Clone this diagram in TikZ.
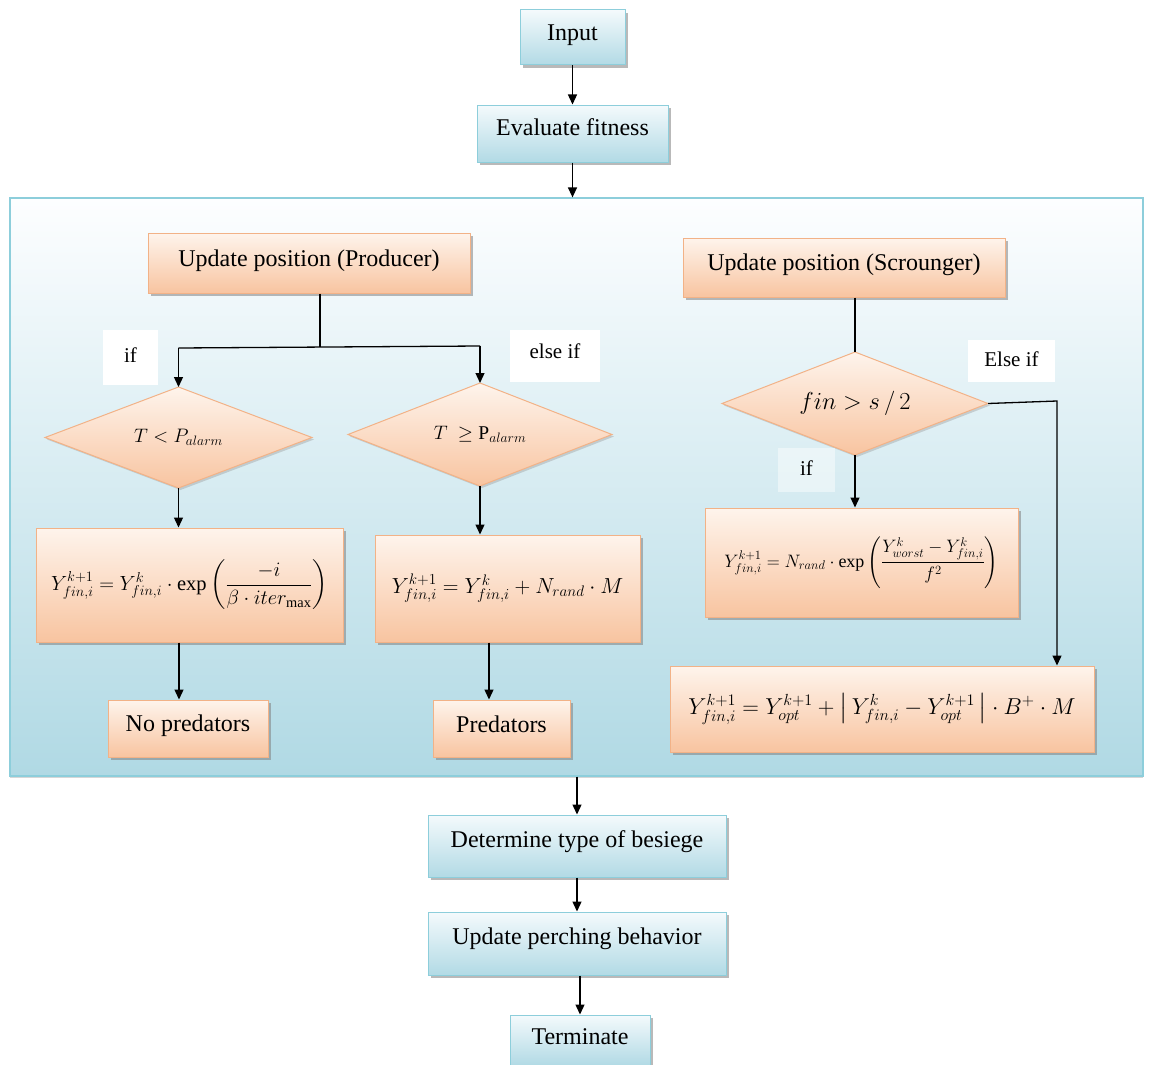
\RequirePackage{fix-cm}
\documentclass[tikz,border=0pt]{standalone}
\usepackage{amsmath}
\usepackage{fontspec}
\setmainfont{Liberation Serif}
\usetikzlibrary{shapes.geometric,arrows.meta,shadows}
\definecolor{btop}{HTML}{F4FAFC}
\definecolor{bbot}{HTML}{B2DAE5}
\definecolor{bborder}{HTML}{8DCEDB}
\definecolor{ctop}{HTML}{FDFEFF}
\definecolor{cbot}{HTML}{B0D9E4}
\definecolor{otop}{HTML}{FEF4EC}
\definecolor{obot}{HTML}{F8C4A0}
\definecolor{oborder}{HTML}{F2B287}
\begin{document}
\begin{tikzpicture}[x=1pt,y=-1pt,
  shbox/.style={rectangle, line width=1pt, inner sep=0pt,
    drop shadow={shadow xshift=3pt,shadow yshift=-3pt,fill=black!50,opacity=0.55}},
  bluebox/.style={shbox, draw=bborder, top color=btop, bottom color=bbot,
    font=\fontsize{24}{28}\selectfont},
  orbox/.style={shbox, draw=oborder, top color=otop, bottom color=obot,
    font=\fontsize{24}{28}\selectfont},
  dia/.style={diamond, aspect=2.6, draw=oborder, line width=1pt, top color=otop, bottom color=obot,
    inner sep=0pt, outer sep=0pt,
    drop shadow={shadow xshift=2pt,shadow yshift=-2pt,fill=black!40,opacity=0.4}},
  lab/.style={fill=white, inner sep=0pt, font=\fontsize{21}{24}\selectfont},
  arr/.style={-{Triangle[length=10pt,width=9pt]}, line width=1.3pt},
  ln/.style={line width=1.3pt}]
\useasboundingbox (0,0) rectangle (1149,1065);

% container
\node[rectangle, draw=bborder, line width=1.2pt, top color=ctop, bottom color=cbot,
  minimum width=1133, minimum height=578, inner sep=0pt,
  drop shadow={shadow xshift=0pt,shadow yshift=-2pt,fill=black!40,opacity=0.4}] (cont) at (576.5,487) {};

% top chain
\node[bluebox, minimum width=105, minimum height=55] (input) at (572.5,37.5) {\raisebox{10pt}{Input}};
\node[bluebox, minimum width=191, minimum height=57] (eval) at (572.5,133.5) {\raisebox{12pt}{Evaluate fitness}};

% producer side
\node[orbox, minimum width=322, minimum height=60] (prod) at (309,263) {\raisebox{10pt}{Update position (Producer)}};
\node[lab, minimum width=55, minimum height=55] (ifA) at (130.5,357.5) {\raisebox{4pt}{if}};
\node[lab, minimum width=90, minimum height=52] (elseA) at (555,356) {\raisebox{10pt}{else if}};
\node[dia, minimum width=267, minimum height=101] (d1) at (178.5,437.5)
  {\fontsize{19.5}{23}\selectfont $T < P_{alarm}$};
\node[dia, minimum width=264, minimum height=103] (d2) at (480,434.5)
  {\fontsize{19.5}{23}\selectfont $T\ \geq \mathrm{P}_{alarm}$};
\node[orbox, minimum width=307, minimum height=114] (b1) at (189.5,585)
  {\fontsize{20.5}{25}\selectfont $Y^{k+1}_{fin,i} = Y^{k}_{fin,i}\cdot\exp\left(\dfrac{-i}{\beta\cdot iter_{\max}}\right)$};
\node[orbox, minimum width=265, minimum height=107] (b2) at (507.5,588.5)
  {\fontsize{21.8}{26}\selectfont $Y^{k+1}_{fin,i} = Y^{k}_{fin,i} + N_{rand}\cdot M$};
\node[orbox, minimum width=160, minimum height=57] (nop) at (188,728.5) {\raisebox{10pt}{No predators}};
\node[orbox, minimum width=137, minimum height=57] (pred) at (501.5,728.5) {\raisebox{8pt}{Predators}};

% scrounger side
\node[orbox, minimum width=322, minimum height=59] (scr) at (844,267.5) {\raisebox{10pt}{Update position (Scrounger)}};
\node[dia, minimum width=266, minimum height=103] (d3) at (855,403.5)
  {\fontsize{24.5}{28}\selectfont $fin > s\,/\,2$};
\node[lab, minimum width=87, minimum height=42] (elseB) at (1011.5,361) {\raisebox{4pt}{Else if}};
\node[lab, fill opacity=0.45, text opacity=1, minimum width=57, minimum height=44] (ifB) at (806.5,470) {\raisebox{4pt}{if}};
\node[orbox, minimum width=313, minimum height=109] (b3) at (861.5,562.5)
  {\fontsize{18}{22}\selectfont $Y^{k+1}_{fin,i} = N_{rand}\cdot\exp\left(\dfrac{Y^{k}_{worst}-Y^{k}_{fin,i}}{f^{2}}\right)$};
\node[orbox, minimum width=424, minimum height=86] (b4) at (882,709)
  {\fontsize{23}{28}\selectfont $Y^{k+1}_{fin,i} = Y^{k+1}_{opt} + \left|\,Y^{k}_{fin,i} - Y^{k+1}_{opt}\,\right|\cdot B^{+}\cdot M$};

% bottom chain
\node[bluebox, minimum width=298, minimum height=62] (det) at (577,846) {\raisebox{14pt}{Determine type of besiege}};
\node[bluebox, minimum width=298, minimum height=63] (perch) at (577,943.5) {\raisebox{14pt}{Update perching behavior}};
\node[bluebox, minimum width=140, minimum height=50] (term) at (580,1040) {\raisebox{6pt}{Terminate}};

% coordinates
\coordinate (j1) at (320,347);
\coordinate (jl) at (178.5,348);
\coordinate (jr) at (480,346);
\coordinate (c4) at (1057,401);
\coordinate (xa) at (179,0);
\coordinate (xb) at (489,0);

% connectors
\draw[arr] (input.south) -- (eval.north);
\draw[arr] (eval.south) -- (eval.south |- cont.north);
\draw[ln] (prod.south -| j1) -- (j1);
\draw[ln] (jl) -- (jr);
\draw[arr] (jl) -- (d1.north);
\draw[arr] (jr) -- (d2.north);
\draw[arr] (d1.south) -- (d1.south |- b1.north);
\draw[arr] (d2.south) -- (d2.south |- b2.north);
\draw[arr] (b1.south -| xa) -- (nop.north -| xa);
\draw[arr] (b2.south -| xb) -- (pred.north -| xb);
\draw[ln] (scr.south -| d3.north) -- (d3.north);
\draw[arr] (d3.south) -- (d3.south |- b3.north);
\draw[arr] (d3.east) -- (c4) -- (c4 |- b4.north);
\draw[arr] (cont.south -| det.north) -- (det.north);
\draw[arr] (det.south) -- (perch.north);
\draw[arr] (perch.south -| term.north) -- (term.north);
\end{tikzpicture}
\end{document}
